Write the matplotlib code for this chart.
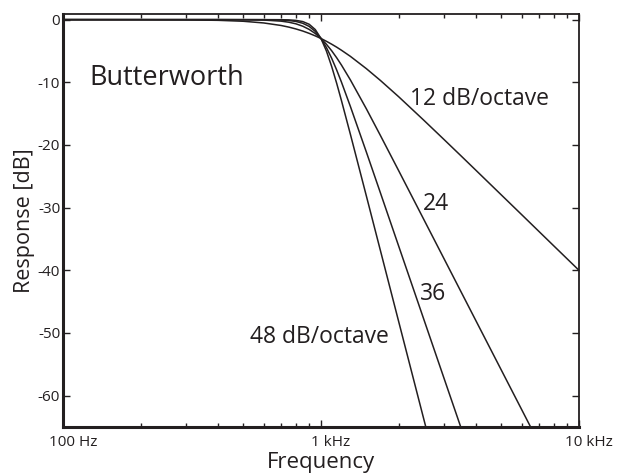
import matplotlib
matplotlib.use("Agg")
import matplotlib.pyplot as plt
import matplotlib.transforms as mtransforms
from matplotlib.ticker import FixedLocator, LogLocator, NullFormatter

plt.rcParams['font.family'] = ['Open Sans', 'DejaVu Sans']

# frequency points (Hz) and response (dB)
freq = [100, 200, 300, 400, 500, 600, 700, 750, 800, 850, 900, 950, 1000,
        1050, 1100, 1150, 1200, 1300, 1500, 1700, 2000, 2500, 3000, 3500,
        4000, 5000, 6000, 7000, 8000, 10000]

resp_12 = [0.0, -0.01, -0.04, -0.11, -0.26, -0.53, -0.93, -1.19, -1.49, -1.82,
           -2.19, -2.59, -3.01, -3.46, -3.92, -4.39, -4.88, -5.86, -7.83, -9.71,
           -12.30, -16.03, -19.14, -21.79, -24.10, -27.97, -31.13, -33.81,
           -36.13, -40.00]
resp_24 = [0.0, 0.0, 0.0, 0.0, -0.02, -0.07, -0.24, -0.41, -0.67, -1.05,
           -1.56, -2.21, -3.01, -3.94, -4.97, -6.08, -7.24, -9.62, -14.25,
           -18.50, -24.10, -31.84, -38.17, -43.53, -48.17, -55.92, -62.25,
           -67.61, -72.25, -80.0]
resp_36 = [0.0, 0.0, 0.0, 0.0, 0.0, -0.01, -0.06, -0.14, -0.29, -0.58,
           -1.08, -1.88, -3.01, -4.47, -6.17, -8.03, -9.96, -13.86, -21.16,
           -27.66, -36.13, -47.75, -57.26, -65.29, -72.25, -83.88, -93.4,
           -101.4, -108.4, -120.0]
resp_48 = [0.0, 0.0, 0.0, 0.0, 0.0, 0.0, -0.01, -0.04, -0.12, -0.31,
           -0.74, -1.58, -3.01, -5.03, -7.48, -10.15, -12.90, -18.30, -28.18,
           -36.87, -48.17, -63.67, -76.3, -87.0, -96.3, -111.8, -124.5,
           -135.2, -144.5, -160.0]

xticks = [100, 1000, 10000]
xticklabels = ["100 Hz", "1 kHz", "10 kHz"]
yticks = [0, -10, -20, -30, -40, -50, -60]

fig = plt.figure(figsize=(6.18, 4.76), dpi=100)
ax = fig.add_axes([63 / 618, 1 - 427 / 476, 516 / 618, 413 / 476])

for r in [resp_12, resp_24, resp_36, resp_48]:
    ax.plot(freq, r, color="#231f20", lw=1.1)

ax.set_xscale("log")
ax.set_xlim(100, 10000)
ax.set_ylim(-65, 0.9)

ax.xaxis.set_major_locator(FixedLocator(xticks))
ax.set_xticklabels(xticklabels)
ax.xaxis.set_minor_locator(LogLocator(base=10, subs=range(2, 10)))
ax.xaxis.set_minor_formatter(NullFormatter())
ax.set_yticks(yticks)
ax.set_yticklabels([str(t) if t == 0 else "-%d" % -t for t in yticks])

ax.tick_params(axis="both", which="major", direction="in", top=True,
               right=True, length=5, width=1.0, labelsize=11, colors="#231f20")
ax.tick_params(axis="x", which="minor", direction="in", top=True,
               length=3, width=1.0, colors="#231f20")
ax.tick_params(axis="y", pad=2)
ax.tick_params(axis="x", pad=6)

offset = mtransforms.ScaledTranslation(10 / 100, 0, fig.dpi_scale_trans)
for lab in ax.get_xticklabels():
    lab.set_transform(lab.get_transform() + offset)

for side in ["left", "bottom"]:
    ax.spines[side].set_linewidth(2.2)
for side in ["top", "right"]:
    ax.spines[side].set_linewidth(1.3)
for s in ax.spines.values():
    s.set_color("#231f20")

ax.set_xlabel("Frequency", fontsize=16, color="#231f20", labelpad=1)
ax.set_ylabel("Response [dB]", fontsize=15.5, color="#231f20", labelpad=2)

ax.text(127, -9.3, "Butterworth", fontsize=19.5, color="#231f20", va="center")
ax.text(2213, -12.7, "12 dB/octave", fontsize=16.5, color="#231f20", va="center")
ax.text(2485, -29.4, "24", fontsize=16.5, color="#231f20", va="center")
ax.text(2420, -43.7, "36", fontsize=16.5, color="#231f20", va="center")
ax.text(531, -50.6, "48 dB/octave", fontsize=16.5, color="#231f20", va="center")

fig.savefig("out.png", dpi=100)
